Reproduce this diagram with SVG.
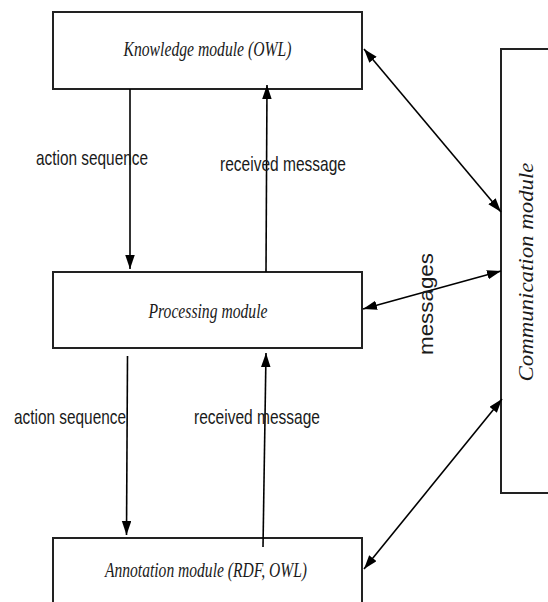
<svg xmlns="http://www.w3.org/2000/svg" width="548" height="602" viewBox="0 0 548 602">
<style>
.box{fill:#fff;stroke:#222;stroke-width:2}
.conn{stroke:#000;stroke-width:1.6;fill:none}
.ttl{font-family:"Liberation Serif","Times New Roman",serif;font-style:italic;font-size:21px;fill:#1a1a1a}
.lbl{font-family:"Liberation Sans",Arial,sans-serif;font-size:21px;fill:#1a1a1a}
</style>
<defs>
<marker id="ah" markerUnits="userSpaceOnUse" markerWidth="15" markerHeight="10" refX="14" refY="4.75" orient="auto-start-reverse">
<path d="M0,0 L14,4.75 L0,9.5 z" fill="#000"/>
</marker>
</defs>
<rect width="548" height="602" fill="#fff"/>
<g id="knowledge">
<rect class="box" x="53" y="12" width="309" height="77"/>
<text class="ttl" x="207.5" y="56" text-anchor="middle" textLength="168" lengthAdjust="spacingAndGlyphs">Knowledge module (OWL)</text>
</g>
<g id="processing">
<rect class="box" x="53" y="272" width="309" height="76"/>
<text class="ttl" x="208" y="318" text-anchor="middle" textLength="119" lengthAdjust="spacingAndGlyphs">Processing module</text>
</g>
<g id="annotation">
<rect class="box" x="53" y="538" width="309" height="80"/>
<text class="ttl" x="206" y="577" text-anchor="middle" textLength="202" lengthAdjust="spacingAndGlyphs">Annotation module (RDF, OWL)</text>
</g>
<g id="communication">
<rect class="box" x="501" y="49" width="60" height="444"/>
<text class="ttl" transform="translate(533,272) rotate(-90)" x="0" y="0" text-anchor="middle" textLength="219" lengthAdjust="spacingAndGlyphs">Communication module</text>
</g>
<g id="connectors">
<line class="conn" x1="130" y1="89" x2="130" y2="269" marker-end="url(#ah)"/>
<line class="conn" x1="266" y1="272" x2="267" y2="85" marker-end="url(#ah)"/>
<line class="conn" x1="127.5" y1="356" x2="126.5" y2="535" marker-end="url(#ah)"/>
<line class="conn" x1="263" y1="547" x2="266" y2="353" marker-end="url(#ah)"/>
<line class="conn" x1="364" y1="49" x2="501" y2="212" marker-start="url(#ah)" marker-end="url(#ah)"/>
<line class="conn" x1="363" y1="309" x2="501" y2="271" marker-start="url(#ah)" marker-end="url(#ah)"/>
<line class="conn" x1="364" y1="569" x2="502" y2="399" marker-start="url(#ah)" marker-end="url(#ah)"/>
<text class="lbl" x="36" y="165" textLength="112" lengthAdjust="spacingAndGlyphs">action sequence</text>
<text class="lbl" x="220" y="171" textLength="126" lengthAdjust="spacingAndGlyphs">received message</text>
<text class="lbl" x="14" y="424" textLength="112" lengthAdjust="spacingAndGlyphs">action sequence</text>
<text class="lbl" x="194" y="424" textLength="126" lengthAdjust="spacingAndGlyphs">received message</text>
<text class="lbl" transform="translate(433,304) rotate(-90)" x="0" y="0" text-anchor="middle" textLength="102" lengthAdjust="spacingAndGlyphs">messages</text>
</g>
</svg>
